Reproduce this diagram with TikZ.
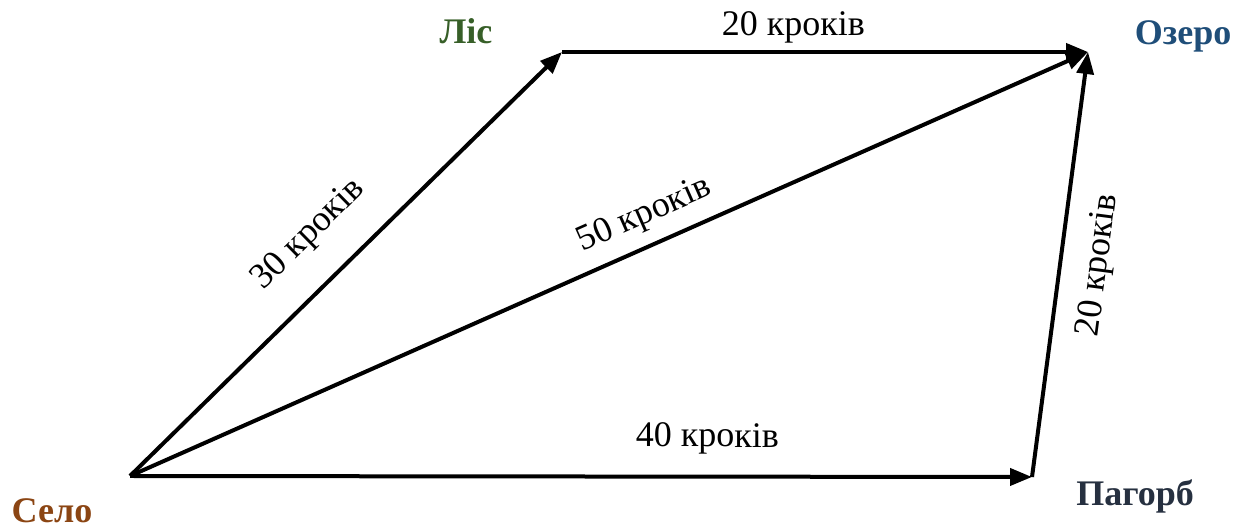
\documentclass[tikz,border=0pt]{standalone}
\usepackage{fontspec}
\setmainfont{Liberation Serif}
\usepackage{tikz}
\usetikzlibrary{arrows.meta}
\definecolor{selocol}{RGB}{139,69,19}
\definecolor{liscol}{RGB}{55,95,40}
\definecolor{ozerocol}{RGB}{31,78,121}
\definecolor{pahorbcol}{RGB}{38,48,64}

\begin{document}
\begin{tikzpicture}[x=0.5pt,y=0.5pt,>={Triangle[length=11pt,width=8.5pt]},
  way/.style={->,line width=2pt},
  steps/.style={font=\fontsize{18}{20}\selectfont,inner sep=0pt,sloped},
  place/.style={font=\fontsize{18}{20}\selectfont\bfseries}]
  \useasboundingbox (0,0) rectangle (1234,528);
  \coordinate (selo) at (130,52);
  \coordinate (lis) at (562,476);
  \coordinate (ozero) at (1088,476);
  \coordinate (pahorb) at (1032,51);
  \node[place,text=selocol] (seloT) at (52,17) {Село};
  \node[place,text=liscol] (lisT) at (466,497) {Ліс};
  \node[place,text=ozerocol] (ozeroT) at (1183,492) {Озеро};
  \node[place,text=pahorbcol] (pahorbT) at (1135,32) {Пагорб};
  \draw[way] (selo) -- node[steps,pos=0.49,above=14.5pt] (s30) {30 кроків} (lis);
  \draw[way] (lis) -- node[steps,pos=0.44,above=3.5pt] (s20a) {20 кроків} (ozero);
  \draw[way] (selo) -- node[steps,pos=0.55,above=6pt] (s50) {50 кроків} (ozero);
  \draw[way] (selo) -- node[steps,pos=0.64,above=10pt] (s40) {40 кроків} (pahorb);
  \draw[way] (pahorb) -- node[steps,pos=0.51,below=10.5pt] (s20b) {20 кроків} (ozero);
\end{tikzpicture}
\end{document}
